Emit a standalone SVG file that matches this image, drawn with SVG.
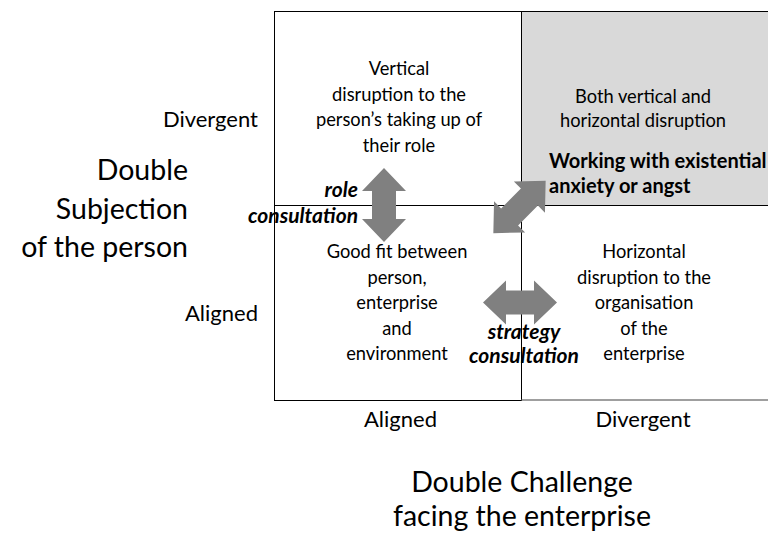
<svg xmlns="http://www.w3.org/2000/svg" width="768" height="540" viewBox="0 0 768 540">
<style>
text{font-family:Lato,"Open Sans","Liberation Sans",sans-serif;fill:#000}
.q{font-size:18.3px;text-anchor:middle}
.ax{font-size:22px}
.big{font-size:28.5px}
.bi{font-size:21px;font-weight:bold;font-style:italic}
.b{font-size:20px;font-weight:bold}
.box{stroke:#000;stroke-width:1}
.arr{fill:#808080}
</style>
<defs>
<path id="dbl" d="M -37 0 L -14 -22 L -14 -12 L 14 -12 L 14 -22 L 37 0 L 14 22 L 14 12 L -14 12 L -14 22 Z"/>
</defs>
<rect width="768" height="540" fill="#fff"/>
<g id="q-top-right">
<rect class="box" x="521.5" y="11.5" width="260" height="194" fill="#d9d9d9"/>
<text class="q" x="643" y="103">Both vertical and</text>
<text class="q" x="643" y="127">horizontal disruption</text>
<text class="b" x="549" y="168">Working with existential</text>
<text class="b" x="549" y="193">anxiety or angst</text>
</g>
<g id="q-top-left">
<rect class="box" x="274.5" y="11.5" width="247" height="194" fill="#fff"/>
<text class="q" x="399" y="75">Vertical</text>
<text class="q" x="399" y="100.5">disruption to the</text>
<text class="q" x="399" y="126">person’s taking up of</text>
<text class="q" x="399" y="151.5">their role</text>
</g>
<g id="q-bottom-left">
<rect class="box" x="274.5" y="205.5" width="247" height="195" fill="none"/>
<text class="q" x="397" y="258">Good fit between</text>
<text class="q" x="397" y="283.5">person,</text>
<text class="q" x="397" y="309">enterprise</text>
<text class="q" x="397" y="334.5">and</text>
<text class="q" x="397" y="360">environment</text>
</g>
<g id="q-bottom-right">
<path d="M521.5 205.5 V400.5" stroke="#000" fill="none"/>
<path d="M521.5 400 H768" stroke="#7f7f7f" stroke-width="1.5" fill="none"/>
<text class="q" x="644" y="258">Horizontal</text>
<text class="q" x="644" y="283.5">disruption to the</text>
<text class="q" x="644" y="309">organisation</text>
<text class="q" x="644" y="334.5">of the</text>
<text class="q" x="644" y="360">enterprise</text>
</g>
<g id="axis-labels">
<text class="ax" x="258" y="127" text-anchor="end">Divergent</text>
<text class="ax" x="258" y="321" text-anchor="end">Aligned</text>
<text class="ax" x="400.5" y="427" text-anchor="middle">Aligned</text>
<text class="ax" x="643" y="427" text-anchor="middle">Divergent</text>
</g>
<g id="axis-title-y">
<text class="big" x="188" y="180" text-anchor="end">Double</text>
<text class="big" x="188" y="218.5" text-anchor="end">Subjection</text>
<text class="big" x="188" y="257" text-anchor="end">of the person</text>
</g>
<g id="axis-title-x">
<text class="big" x="522" y="492" text-anchor="middle">Double Challenge</text>
<text class="big" x="522" y="526" text-anchor="middle">facing the enterprise</text>
</g>
<g id="connectors">
<use href="#dbl" class="arr" transform="translate(384,205) rotate(90)"/>
<use href="#dbl" class="arr" transform="translate(520,302.5)"/>
<use href="#dbl" class="arr" transform="translate(519.5,207) rotate(-45)"/>
</g>
<g id="connector-labels">
<text class="bi" x="358" y="197" text-anchor="end">role</text>
<text class="bi" x="358" y="223" text-anchor="end">consultation</text>
<text class="bi" x="524" y="339" text-anchor="middle">strategy</text>
<text class="bi" x="524" y="363" text-anchor="middle">consultation</text>
</g>
</svg>
